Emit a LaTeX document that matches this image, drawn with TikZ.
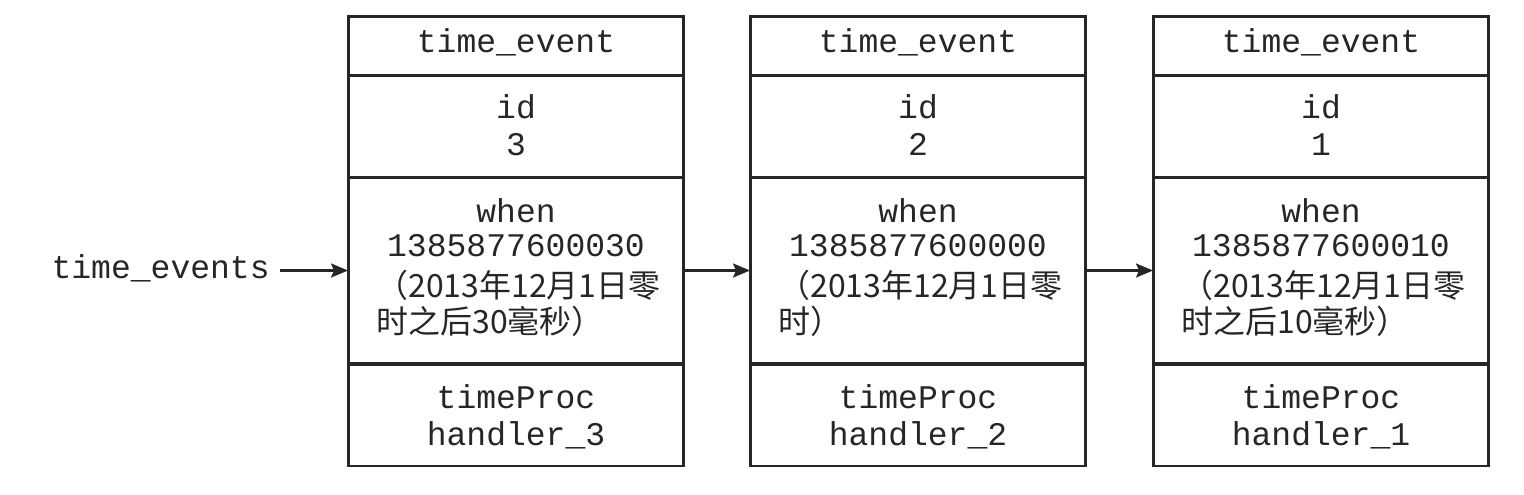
\documentclass[tikz,border=0pt]{standalone}
\usepackage{fontspec}
\setmonofont{Liberation Mono}
\newfontfamily\cjk{Noto Sans CJK SC}
\usetikzlibrary{arrows.meta}

\tikzset{
  row/.style={draw=black!85, line width=1.7pt, inner sep=0pt,
    outer sep=0pt, minimum width=6.72cm},
  mono/.style={font=\ttfamily\fontsize{18.8}{22}\selectfont,
    text=black!85, anchor=base, inner sep=0pt},
  cntext/.style={font=\cjk\fontsize{18.2}{22}\selectfont,
    text=black!85, anchor=base west, inner sep=0pt},
  link/.style={draw=black!85, line width=1.3pt,
    -{Stealth[length=0.34cm, width=0.28cm, inset=0.06cm]}}
}

\begin{document}
\begin{tikzpicture}[x=0.02cm, y=-0.02cm]
    \useasboundingbox (0, 0) rectangle (1524, 494);

    \foreach \id/\L/\when/\tail in {
      3/348/1385877600030/时之后30毫秒）,
      2/750/1385877600000/时）,
      1/1153/1385877600010/时之后10毫秒）} {
      \pgfmathsetmacro{\C}{\L + 168}
      % the four rows of one time_event
      \node[row, minimum height=1.18cm] (ev\id-head) at (\C, 45.5) {};
      \node[row, minimum height=2.04cm] (ev\id-id) at (\C, 126) {};
      \node[row, minimum height=3.74cm] (ev\id-when) at (\C, 270.5) {};
      \node[row, minimum height=2.04cm] (ev\id-proc) at (\C, 415) {};
      % texts
      \node[mono] (ev\id-name) at (\C, 52) {time\_event};
      \node[mono] (ev\id-idkey) at (\C, 118) {id};
      \node[mono] (ev\id-idval) at (\C, 155) {\id};
      \node[mono] (ev\id-whenkey) at (\C, 222) {when};
      \node[mono] (ev\id-whenval) at (\C, 256) {\when};
      \node[cntext] (ev\id-cna) at (\L + 28, 297) {（2013年12月1日零};
      \node[cntext] (ev\id-cnb) at (\L + 28, 333) {\tail};
      \node[mono] (ev\id-prockey) at (\C, 408) {timeProc};
      \node[mono] (ev\id-procval) at (\C, 445) {handler\_\id};
    }

    \node[mono, anchor=base east] (head) at (270, 278) {time\_events};

    \draw[link] ([xshift=0.2cm]ev3-when.west -| head.east) -- (ev3-when.west);
    \draw[link] (ev3-when.east) -- (ev2-when.west);
    \draw[link] (ev2-when.east) -- (ev1-when.west);
\end{tikzpicture}
\end{document}
